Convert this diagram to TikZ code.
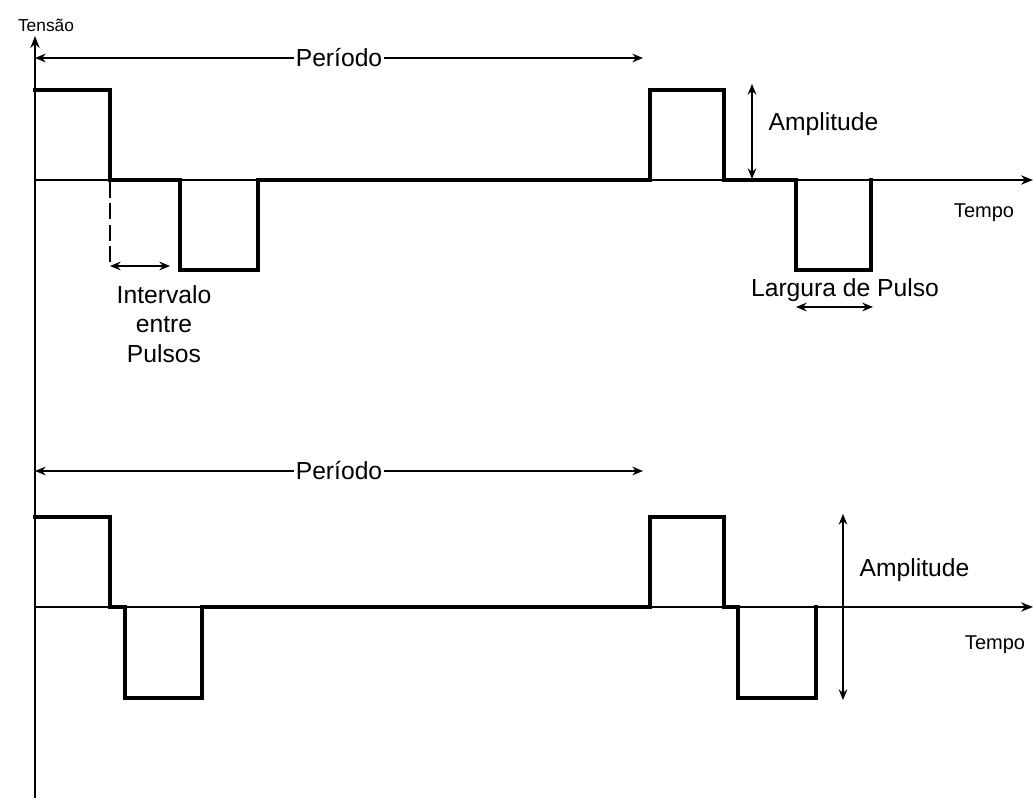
\documentclass[tikz,border=0pt]{standalone}
\usepackage{fontspec}
\setmainfont{Liberation Sans}
\usetikzlibrary{arrows.meta}
\begin{document}
\begin{tikzpicture}[x=0.75pt,y=-0.75pt,
  axis/.style={line width=1.1pt,-{Stealth[length=9pt,width=7pt]}},
  wave/.style={line width=3pt,line join=miter},
  dim/.style={line width=1.1pt,{Stealth[length=8pt,width=6.5pt]}-{Stealth[length=8pt,width=6.5pt]}},
  lbl/.style={font=\fontsize{18.5}{22}\selectfont,inner sep=1pt},
  small/.style={font=\fontsize{15}{17}\selectfont,inner sep=1pt}]
\useasboundingbox (0,0) rectangle (1033,798);

% axes
\coordinate (yb) at (35,798);
\coordinate (yt) at (35,36);
\coordinate (x1a) at (35,180);
\coordinate (x1b) at (1033,180);
\coordinate (x2a) at (35,607);
\coordinate (x2b) at (1033,607);
\draw[axis] (yb) -- (yt);
\draw[axis] (x1a) -- (x1b);
\draw[axis] (x2a) -- (x2b);
\node[font=\fontsize{13}{15}\selectfont,inner sep=1pt,anchor=south] (tensao) at (46,33) {Tensão};
\node[small] (tempo1) at (984,213) {Tempo};
\node[small] (tempo2) at (995,645) {Tempo};

% upper pulse train
\draw[wave] (33,90) -- (110,90) -- (110,180) -- (180,180) -- (180,270)
  -- (258,270) -- (258,180) -- (650,180) -- (650,90) -- (724,90)
  -- (724,180) -- (796,180) -- (796,270) -- (871,270) -- (871,178);

% lower pulse train
\draw[wave] (33,517) -- (110,517) -- (110,607) -- (125,607) -- (125,698)
  -- (202,698) -- (202,607) -- (650,607) -- (650,517) -- (724,517)
  -- (724,607) -- (738,607) -- (738,698) -- (816,698) -- (816,605);

% period markers
\coordinate (p1a) at (35,58);
\coordinate (p1b) at (643,58);
\draw[dim] (p1a) -- node[lbl,fill=white] (per1) {Período} (p1b);
\coordinate (p2a) at (35,471);
\coordinate (p2b) at (643,471);
\draw[dim] (p2a) -- node[lbl,fill=white] (per2) {Período} (p2b);

% amplitude markers
\coordinate (a1t) at (752,84);
\coordinate (a1b) at (752,179);
\draw[dim] (a1t) -- (a1b);
\node[lbl,anchor=west] (amp1) at (767,124) {Amplitude};
\coordinate (a2t) at (843,514);
\coordinate (a2b) at (843,700);
\draw[dim] (a2t) -- (a2b);
\node[lbl,anchor=west] (amp2) at (858,570) {Amplitude};

% interval between pulses
\coordinate (d1) at (110,182);
\coordinate (d2) at (110,266);
\draw[line width=1.1pt,dash pattern=on 12pt off 4pt] (d1) -- (d2);
\coordinate (i1) at (110,266);
\coordinate (i2) at (170,266);
\draw[dim] (i1) -- (i2);
\node[lbl,align=center,anchor=north] (intv) at (164,284) {Intervalo\\entre\\Pulsos};

% pulse width
\coordinate (w1) at (796,307);
\coordinate (w2) at (873,307);
\draw[dim] (w1) -- (w2);
\node[lbl] (larg) at (845,290) {Largura de Pulso};
\end{tikzpicture}
\end{document}
